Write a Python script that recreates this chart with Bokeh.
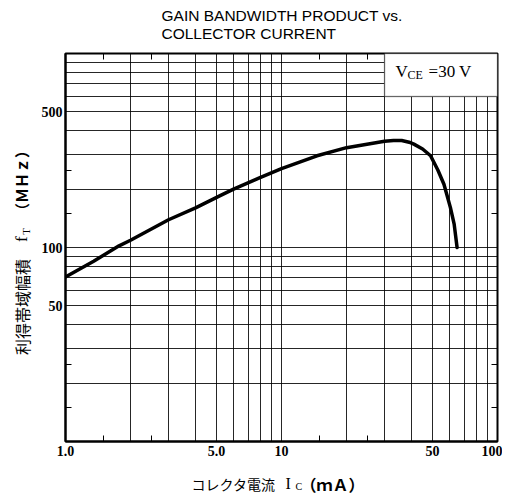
import math
from bokeh.plotting import figure
from bokeh.models import FixedTicker, LogAxis, Label, BoxAnnotation, Range1d
from bokeh.layouts import column, row
from bokeh.embed import file_html
from bokeh.resources import INLINE

# ---- data ----
ic_ma = [1.0, 1.35, 1.77, 2.0, 3.0, 4.0, 5.2, 6.0, 8.0, 10.0, 14.6, 20.0, 30.0,
         33.0, 36.0, 39.0, 41.0, 45.0, 49.0, 53.0, 56.5, 60.5, 63.0, 65.0]
ft_mhz = [70.5, 85.0, 102.0, 109.0, 139.0, 160.0, 185.0, 200.0, 230.0, 255.0, 297.0, 327.0, 353.0,
          356.0, 356.0, 349.0, 341.0, 322.0, 297.0, 250.0, 212.0, 161.0, 132.0, 100.0]

x_major = [1, 5, 10, 50, 100]
x_labels = ["1.0", "5.0", "10", "50", "100"]
y_major = [50, 100, 500]
y_labels = ["50", "100", "500"]
x_grid = [2, 3, 4, 5, 6, 7, 8, 9, 10, 20, 30, 40, 50, 60, 70, 80, 90]
y_grid = [20, 30, 40, 50, 60, 70, 80, 90, 100, 200, 300, 400, 500, 600, 700, 800, 900]
x_minor = [1.5, 2.5, 15, 25]
y_minor = [15, 25, 150, 250]
x_span = [1, 100]
y_span = [10, 1000]
vce_box_x = [30, 100]
vce_box_y = [600, 1000]

title_lines = ["GAIN BANDWIDTH PRODUCT vs.", "COLLECTOR CURRENT"]

TOTAL_W = 502
TOTAL_H = 494
TITLE_H = 43
MAIN_H = 422
XLAB_H = TOTAL_H - TITLE_H - MAIN_H
YLAB_W = 34


def text_fig(w, h):
    f = figure(width=w, height=h, x_range=Range1d(0, w), y_range=Range1d(0, h),
               x_axis_location=None, y_axis_location=None,
               output_backend="svg", toolbar_location=None,
               min_border=0, min_border_left=0, min_border_right=0,
               min_border_top=0, min_border_bottom=0)
    f.grid.visible = False
    f.outline_line_color = None
    f.background_fill_color = "white"
    f.border_fill_color = "white"
    return f


def lab(f, x, y, text, size, font="Liberation Serif", style="normal", align="left",
        angle=0.0, dx=0, dy=0):
    f.add_layout(Label(x=x, y=y, text=text, x_offset=dx, y_offset=dy, text_font=font,
                       text_font_size=size, text_font_style=style, text_align=align,
                       text_baseline="middle", text_color="black", angle=angle))


# ---------------- main chart ----------------
p = figure(width=TOTAL_W - YLAB_W, height=MAIN_H, x_axis_type="log", y_axis_type="log",
           x_range=(x_span[0], x_span[1]), y_range=(y_span[0], y_span[1]),
           output_backend="svg", toolbar_location=None,
           min_border_left=65 - YLAB_W, min_border_right=5, min_border_top=10, min_border_bottom=24)
p.background_fill_color = "white"
p.border_fill_color = "white"
p.outline_line_color = "black"
p.outline_line_width = 2

p.xgrid[0].ticker = FixedTicker(ticks=x_grid)
p.ygrid[0].ticker = FixedTicker(ticks=y_grid)
for g in (p.xgrid[0], p.ygrid[0]):
    g.grid_line_color = "black"
    g.grid_line_width = 1
    g.grid_line_alpha = 0.85

p.xaxis.ticker = FixedTicker(ticks=x_major, minor_ticks=x_minor)
p.yaxis.ticker = FixedTicker(ticks=y_major, minor_ticks=y_minor)
p.xaxis.major_label_overrides = {v: s for v, s in zip(x_major, x_labels)}
p.yaxis.major_label_overrides = {v: s for v, s in zip(y_major, y_labels)}
for ax in (p.xaxis[0], p.yaxis[0]):
    ax.axis_line_color = "black"
    ax.axis_line_width = 2
    ax.major_tick_in = 0
    ax.major_tick_out = 0
    ax.minor_tick_in = 6
    ax.minor_tick_out = 0
    ax.minor_tick_line_color = "black"
    ax.major_label_text_font = "Liberation Serif"
    ax.major_label_text_font_style = "bold"
    ax.major_label_text_font_size = "14px"
    ax.major_label_text_color = "black"
p.xaxis.major_label_standoff = 4
p.yaxis.major_label_standoff = 3

top = LogAxis(ticker=FixedTicker(ticks=[], minor_ticks=x_minor))
right = LogAxis(ticker=FixedTicker(ticks=[], minor_ticks=y_minor))
for ax in (top, right):
    ax.axis_line_color = None
    ax.major_tick_in = 0
    ax.major_tick_out = 0
    ax.minor_tick_in = 6
    ax.minor_tick_out = 0
    ax.minor_tick_line_color = "black"
    ax.major_label_text_font_size = "0px"
p.add_layout(top, "above")
p.add_layout(right, "right")

p.line(ic_ma, ft_mhz, line_width=3.5, line_color="black", line_join="round", line_cap="round")

p.add_layout(BoxAnnotation(left=vce_box_x[0], right=vce_box_x[1], bottom=vce_box_y[0], top=vce_box_y[1],
                           fill_color="white", fill_alpha=1.0, line_color="black", line_width=1.5))

lab(p, vce_box_x[0], vce_box_y[1], "V", "17px", dx=11, dy=-18)
lab(p, vce_box_x[0], vce_box_y[1], "CE", "12px", dx=23, dy=-21)
lab(p, vce_box_x[0], vce_box_y[1], "=30  V", "17px", dx=44, dy=-18)

# ---------------- title ----------------
tf = text_fig(TOTAL_W, TITLE_H)
lab(tf, 161, TITLE_H - 15, title_lines[0], "15.5px", font="Liberation Sans")
lab(tf, 161, TITLE_H - 33, title_lines[1], "15.5px", font="Liberation Sans")

# ---------------- y label (rotated) ----------------
yf = text_fig(YLAB_W, MAIN_H)
ang = math.pi / 2
ybase = TITLE_H + MAIN_H  # picture y of this panel's bottom
lab(yf, 21, ybase - 371, "利得帯域幅積", "16px", font="Noto Sans CJK JP", angle=ang)
lab(yf, 21, ybase - 248, "f", "17px", angle=ang)
lab(yf, 25, ybase - 240, "T", "11px", angle=ang)
lab(yf, 21, ybase - 222, "（ＭＨｚ）", "15px", font="Noto Sans CJK JP", style="bold", angle=ang)

# ---------------- x label ----------------
xf = text_fig(TOTAL_W, XLAB_H)
xbase = TOTAL_H  # picture y of this panel's bottom
lab(xf, 191, xbase - 483, "コレクタ電流", "14px", font="Noto Sans CJK JP")
lab(xf, 285, xbase - 483, "I", "16px")
lab(xf, 295, xbase - 486, "C", "10px")
lab(xf, 300, xbase - 483, "（ｍＡ）", "16px", font="Noto Sans CJK JP", style="bold")

layout = column(tf, row(yf, p), xf)
open("out.html", "w").write(file_html(layout, INLINE))
